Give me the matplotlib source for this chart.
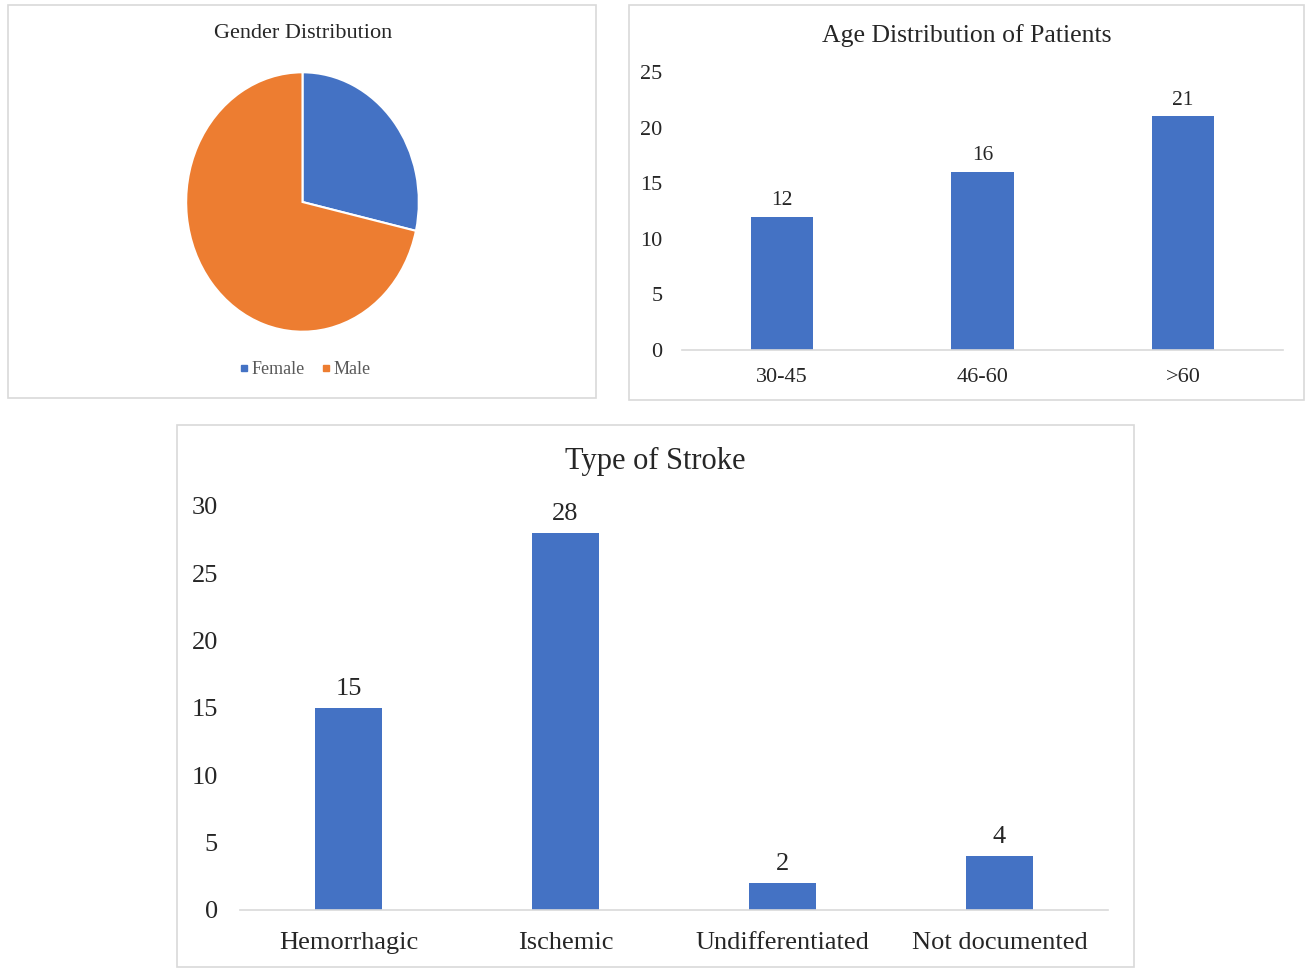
import matplotlib
matplotlib.use("Agg")
import matplotlib.pyplot as plt
from matplotlib.patches import Rectangle
from matplotlib.lines import Line2D

plt.rcParams['font.family'] = ['Liberation Serif', 'DejaVu Serif']

W, H = 1305, 968

gender_labels = ["Female", "Male"]
gender_values = [14, 35]

age_groups = ["30-45", "46-60", ">60"]
age_counts = [12, 16, 21]

stroke_types = ["Hemorrhagic", "Ischemic", "Undifferentiated", "Not documented"]
stroke_counts = [15, 28, 2, 4]

BLUE = "#4472C4"
ORANGE = "#ED7D31"
GRID = "#D9D9D9"
TXT = "#262626"

fig = plt.figure(figsize=(W / 100, H / 100), dpi=100)


def rect(x0, y0, x1, y1):
    return [x0 / W, 1 - y1 / H, (x1 - x0) / W, (y1 - y0) / H]


def panel(x0, y0, x1, y1):
    fig.patches.append(Rectangle((x0 / W, 1 - y1 / H), (x1 - x0) / W, (y1 - y0) / H,
                                 transform=fig.transFigure, fill=False,
                                 edgecolor=GRID, linewidth=1.2))


panel(8, 5, 596, 398)
panel(629, 5, 1304, 400)
panel(177, 425, 1134, 967)

# Pie
axp = fig.add_axes(rect(185, 71, 420, 333))
axp.pie(gender_values, colors=[BLUE, ORANGE], startangle=90, counterclock=False,
        wedgeprops=dict(edgecolor="white", linewidth=1.5))
axp.set_aspect('auto')
axp.set_xlim(-1.01, 1.01)
axp.set_ylim(-1.01, 1.01)
fig.text(303 / W, 1 - 33 / H, "Gender Distribution", ha="center", va="center",
         fontsize=16, color=TXT)
handles = [Line2D([], [], marker="s", linestyle="", color=c, markersize=5)
           for c in [BLUE, ORANGE]]
fig.legend(handles, gender_labels, loc="center", bbox_to_anchor=(302 / W, 1 - 370 / H),
           ncol=2, frameon=False, fontsize=13, handletextpad=-0.2, columnspacing=0.6,
           handlelength=1.2, labelcolor="#595959")

# Age distribution
axa = fig.add_axes(rect(682, 72, 1283, 350))
bars = axa.bar(age_groups, age_counts, width=0.31, color=BLUE)
axa.set_xlim(-0.5, len(age_groups) - 0.5)
axa.set_ylim(0, 25)
axa.set_yticks(range(0, 26, 5))
axa.bar_label(bars, padding=5, fontsize=15.5, color=TXT)
for s in ["top", "right", "left"]:
    axa.spines[s].set_visible(False)
axa.spines["bottom"].set_color(GRID)
axa.spines["bottom"].set_linewidth(1.2)
axa.tick_params(length=0, labelsize=16, labelcolor=TXT)
axa.tick_params(axis="y", pad=14)
axa.tick_params(axis="x", pad=13)
fig.text(967 / W, 1 - 36 / H, "Age Distribution of Patients", ha="center", va="center",
         fontsize=18.5, color=TXT)

# Type of stroke
axs = fig.add_axes(rect(240, 506, 1108, 910))
bars2 = axs.bar(stroke_types, stroke_counts, width=0.31, color=BLUE)
axs.set_xlim(-0.5, len(stroke_types) - 0.5)
axs.set_ylim(0, 30)
axs.set_yticks(range(0, 31, 5))
axs.bar_label(bars2, padding=6, fontsize=19, color=TXT)
for s in ["top", "right", "left"]:
    axs.spines[s].set_visible(False)
axs.spines["bottom"].set_color(GRID)
axs.spines["bottom"].set_linewidth(1.2)
axs.tick_params(length=0, labelsize=19, labelcolor=TXT)
axs.tick_params(axis="y", pad=16)
axs.tick_params(axis="x", pad=16)
fig.text(655 / W, 1 - 461 / H, "Type of Stroke", ha="center", va="center",
         fontsize=22, color=TXT)

fig.savefig("out.png", dpi=100)
